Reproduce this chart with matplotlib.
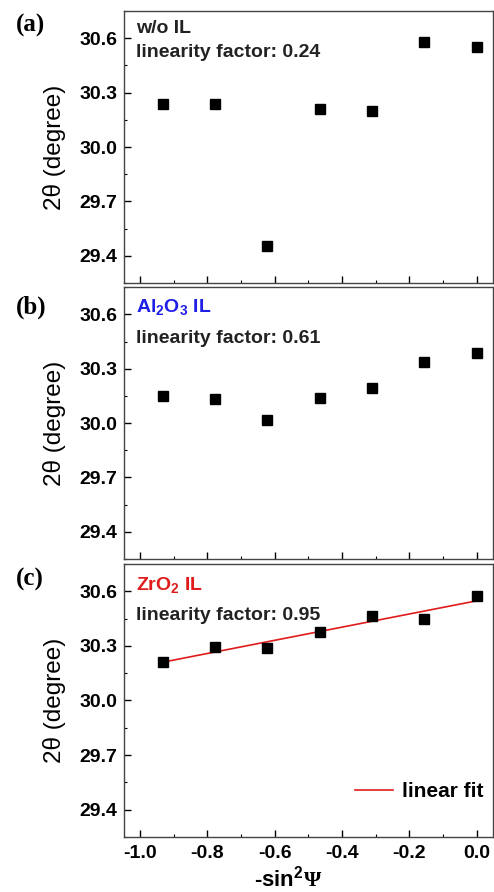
import numpy as np
import matplotlib
matplotlib.use('Agg')
from matplotlib import pyplot as plt
from matplotlib.ticker import MultipleLocator

plt.rcParams['font.family'] = ['Liberation Sans', 'DejaVu Sans']
plt.rcParams['axes.unicode_minus'] = False
plt.rcParams['mathtext.fontset'] = 'custom'
plt.rcParams['mathtext.rm'] = 'Liberation Sans:bold'
plt.rcParams['mathtext.bf'] = 'Liberation Sans:bold'
plt.rcParams['mathtext.it'] = 'Liberation Sans:bold'
plt.rcParams['mathtext.sf'] = 'Liberation Serif:bold'

# -sin^2(psi)
X = [-0.933, -0.778, -0.622, -0.467, -0.311, -0.156, 0.0]
Y_WO = [30.238, 30.236, 29.455, 30.209, 30.201, 30.581, 30.554]
Y_AL = [30.151, 30.132, 30.016, 30.137, 30.192, 30.340, 30.389]
Y_ZR = [30.210, 30.293, 30.291, 30.374, 30.462, 30.448, 30.575]

LABELS = ['(a)', '(b)', '(c)']
NAMES = ['w/o IL', r'$\mathbf{Al_2O_3}$ IL', r'$\mathbf{ZrO_2}$ IL']
NAME_COLORS = ['#222222', '#1f1fe6', '#e01b1b']
FACTORS = ['0.24', '0.61', '0.95']

fig = plt.figure(figsize=(4.94, 8.92), dpi=100)

panels = [(0.6827, 0.3050), (0.3733, 0.3047), (0.0617, 0.3060)]
name_y = [0.934, 0.926, 0.923]
fact_y = [0.846, 0.8125, 0.813]
lab_y = [0.972, 0.656, 0.350]
data = [Y_WO, Y_AL, Y_ZR]

for i, (b, h) in enumerate(panels):
    ax = fig.add_axes([0.251, b, 0.747, h])
    ax.plot(X, data[i], 's', color='black', ms=6.6, zorder=3)
    if i == 2:
        k, c = np.polyfit(X, data[i], 1)
        xf = np.array([X[0], X[-1]])
        ax.plot(xf, k * xf + c, color='#e01b1b', lw=1.2, label='linear fit', zorder=2)
        ax.legend(loc='center right', frameon=False, handlelength=1.8, handletextpad=0.45,
                  bbox_to_anchor=(0.975, 0.165), borderaxespad=0.0, borderpad=0.0,
                  prop={'weight': 'bold', 'size': 15})
    ax.set_xlim(-1.0475, 0.048)
    ax.set_ylim(29.25, 30.75)
    ax.xaxis.set_major_locator(MultipleLocator(0.2))
    ax.xaxis.set_minor_locator(MultipleLocator(0.1))
    ax.yaxis.set_major_locator(MultipleLocator(0.3))
    ax.yaxis.set_minor_locator(MultipleLocator(0.15))
    ax.tick_params(which='both', direction='in', top=False, right=False)
    ax.tick_params(which='major', length=5, width=1, labelsize=14, pad=4.5)
    ax.tick_params(axis='x', which='major', pad=6)
    ax.tick_params(which='minor', length=2.5, width=0.8)
    for lab in ax.get_yticklabels() + ax.get_xticklabels():
        lab.set_fontweight('bold')
    for s in ax.spines.values():
        s.set_color('#444444')
        s.set_linewidth(1.0)
    if i < 2:
        ax.tick_params(labelbottom=False)
    else:
        ax.set_xlabel(r'-sin$^{\mathbf{2}}\mathsf{Ψ}$', fontsize=16, fontweight='bold')
        ax.xaxis.set_label_coords(0.445, -0.105)
    ax.set_ylabel('2θ (degree)', fontsize=17.5, labelpad=10)
    ax.text(0.033, name_y[i], NAMES[i], transform=ax.transAxes, fontsize=14,
            fontweight='bold', color=NAME_COLORS[i], va='center')
    ax.text(0.033, fact_y[i], 'linearity factor: ' + FACTORS[i], transform=ax.transAxes,
            fontsize=14, fontweight='bold', color='#222222', va='center')
    fig.text(0.032, lab_y[i], LABELS[i], fontsize=18, fontweight='bold',
             family='Liberation Serif', va='center')

fig.savefig('out.png', dpi=100)
